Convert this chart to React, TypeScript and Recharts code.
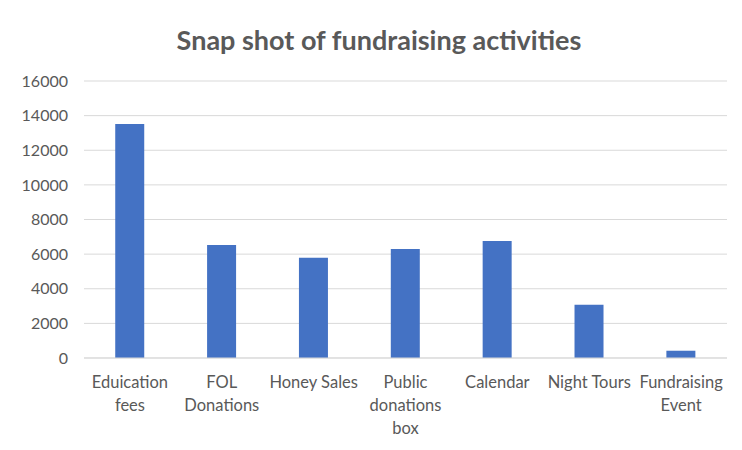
import { BarChart, Bar, XAxis, YAxis, CartesianGrid } from "recharts";

const categories = [
  "Eduication fees",
  "FOL Donations",
  "Honey Sales",
  "Public donations box",
  "Calendar",
  "Night Tours",
  "Fundraising Event",
];
const tickLines = [
  ["Eduication", "fees"],
  ["FOL", "Donations"],
  ["Honey Sales"],
  ["Public", "donations", "box"],
  ["Calendar"],
  ["Night Tours"],
  ["Fundraising", "Event"],
];
const amounts = [13520, 6530, 5790, 6300, 6760, 3070, 420];
const yTicks = [0, 2000, 4000, 6000, 8000, 10000, 12000, 14000, 16000];

const data = categories.map((name, i) => ({ name, value: amounts[i], idx: i }));

const FONT = "Lato, 'Open Sans', sans-serif";
const TEXT = "#595959";

const CategoryTick = (props: any) => {
  const { x, y, index } = props;
  const lines = tickLines[index] || [];
  return (
    <text x={x} y={y} textAnchor="middle" fill={TEXT} fontSize={16.5} fontFamily={FONT}>
      {lines.map((l, i) => (
        <tspan key={i} x={x} dy={i === 0 ? 22 : 23}>
          {l}
        </tspan>
      ))}
    </text>
  );
};

export default function App() {
  return (
    <div style={{ margin: -8, width: 742, height: 450, position: "relative", background: "#fff" }}>
      <div
        style={{
          position: "absolute",
          left: 5,
          top: 4,
          width: 740,
          height: 450,
          border: "1px solid #d0d0d0",
          boxSizing: "border-box",
        }}
      />
      <div
        style={{
          position: "absolute",
          left: 0,
          top: 23,
          width: 758,
          textAlign: "center",
          fontFamily: FONT,
          fontWeight: 700,
          fontSize: 27,
          color: TEXT,
        }}
      >
        Snap shot of fundraising activities
      </div>
      <div style={{ position: "absolute", left: 0, top: 0 }}>
        <BarChart
          width={742}
          height={450}
          data={data}
          margin={{ top: 81, right: 15, left: 0, bottom: 12 }}
          barCategoryGap="34%"
        >
          <CartesianGrid vertical={false} stroke="#d9d9d9" strokeWidth={1} />
          <XAxis
            dataKey="name"
            tickLine={false}
            axisLine={{ stroke: "#d9d9d9" }}
            height={80}
            interval={0}
            tick={<CategoryTick />}
          />
          <YAxis
            domain={[0, 16000]}
            ticks={yTicks}
            width={84}
            axisLine={false}
            tickLine={false}
            tickSize={0}
            tickMargin={16}
            tick={{ fill: TEXT, fontSize: 16, fontFamily: FONT }}
          />
          <Bar dataKey="value" fill="#4472c4" isAnimationActive={false} />
        </BarChart>
      </div>
    </div>
  );
}
